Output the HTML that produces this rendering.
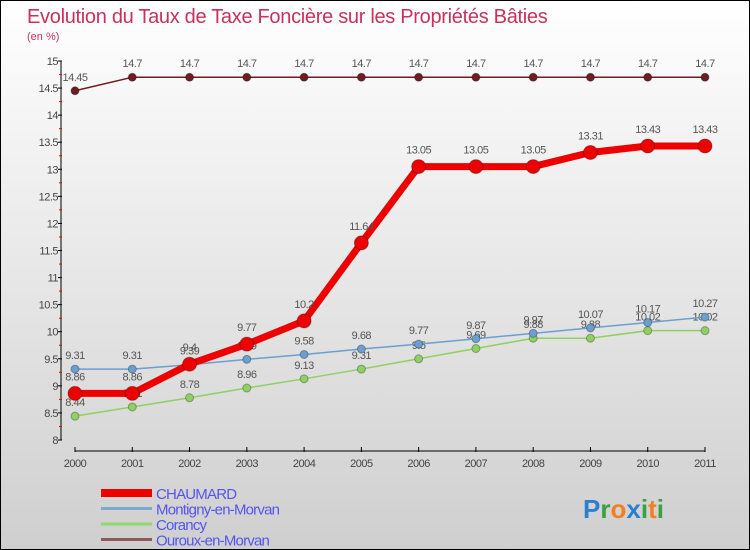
<!DOCTYPE html>
<html><head><meta charset="utf-8">
<style>
body{margin:0;}
#wrap{width:748px;height:548px;border:1px solid #000;background:linear-gradient(#ffffff,#cfcfcf);position:relative;overflow:hidden;font-family:"Liberation Sans",sans-serif;}
svg{position:absolute;left:0;top:0;}
</style></head><body>
<div id="wrap">
<svg id="c" width="748" height="548"></svg>
</div>
<script>
const years=["2000","2001","2002","2003","2004","2005","2006","2007","2008","2009","2010","2011"];
const chaumard=[8.86,8.86,9.4,9.77,10.2,11.64,13.05,13.05,13.05,13.31,13.43,13.43];
const montigny=[9.31,9.31,9.39,9.49,9.58,9.68,9.77,9.87,9.97,10.07,10.17,10.27];
const corancy=[8.44,8.61,8.78,8.96,9.13,9.31,9.5,9.69,9.88,9.88,10.02,10.02];
const ouroux=[14.45,14.7,14.7,14.7,14.7,14.7,14.7,14.7,14.7,14.7,14.7,14.7];
const yTicks=["8","8.5","9","9.5","10","10.5","11","11.5","12","12.5","13","13.5","14","14.5","15"];
const seriesNames=["CHAUMARD","Montigny-en-Morvan","Corancy","Ouroux-en-Morvan"];

const svg=document.getElementById('c');const NS='http://www.w3.org/2000/svg';
function X(i){return 74+i*(630/11);}
function Y(v){return 439-(v-8)*(379/7);}
function mk(t,a,name,p){const e=document.createElementNS(NS,t);for(const k in a)e.setAttribute(k,a[k]);(p||svg).appendChild(e);return e;}
function txt(x,y,s,a,name){const e=mk('text',Object.assign({x:x,y:y},a),name);e.textContent=s;return e;}

txt(26,22,"Evolution du Taux de Taxe Foncière sur les Propriétés Bâties",{'font-size':20,fill:'#c8325a','letter-spacing':'-0.3'},'chart-title');
txt(26,39,"(en %)",{'font-size':11,fill:'#c8325a'},'chart-subtitle');

mk('line',{x1:60,y1:Y(15),x2:60,y2:Y(8),stroke:'#000'},'y-axis');
yTicks.forEach(t=>{const v=parseFloat(t);const y=Y(v);
 mk('line',{x1:57,y1:y,x2:61,y2:y,stroke:'#000'},'y-tick');
 txt(57,y+4,t,{'font-size':11,fill:'#444','text-anchor':'end','letter-spacing':'-0.5'},'y-tick-label');
 if(v<15){mk('line',{x1:58,y1:Y(v+0.25),x2:61,y2:Y(v+0.25),stroke:'#e00'},'y-minor-tick');}
});
mk('line',{x1:X(0),y1:450,x2:X(11),y2:450,stroke:'#000'},'x-axis');
years.forEach((t,i)=>{mk('line',{x1:X(i),y1:446,x2:X(i),y2:451,stroke:'#000'},'x-tick');
 txt(X(i),466,t,{'font-size':11,fill:'#444','text-anchor':'middle','letter-spacing':'-0.5'},'x-tick-label');});

function series(data,color,w,r,name,labelDy){
 const g=mk('g',{},name+'-series');
 mk('polyline',{points:data.map((v,i)=>X(i)+','+Y(v)).join(' '),fill:'none',stroke:color,'stroke-width':w,'stroke-linejoin':'round'},name+'-line',g);
 data.forEach((v,i)=>{mk('circle',{cx:X(i),cy:Y(v),r:r,fill:color,stroke:'rgba(0,0,0,0.3)','stroke-width':1},name+'-point',g);
  txt(X(i),Y(v)+labelDy,String(v),{'font-size':11,fill:'#555','text-anchor':'middle','letter-spacing':'-0.5'},name+'-value-label');});
}
series(ouroux,'#6e1e22',1.5,4,'ouroux',-10);
series(corancy,'#90d060',1.5,4,'corancy',-10);
series(montigny,'#6a9fd0',1.5,4,'montigny',-10);
series(chaumard,'#ee0000',7,7,'chaumard',-13);

const lc=['#ee0000','#7fa8cc','#90d870','#8c5a5a'];const lw=[8,3,3,3];
seriesNames.forEach((n,i)=>{const y=492+i*15.5;
 mk('line',{x1:100,y1:y,x2:151,y2:y,stroke:lc[i],'stroke-width':lw[i]},'legend-swatch');
 txt(155,y+6,n,{'font-size':15,fill:'#5555ee','letter-spacing':'-0.8'},'legend-entry');});

const lg=mk('text',{x:582,y:517,'font-size':26,'font-weight':'bold'},'proxiti-logo');
[['P','#2a7fd0'],['r','#3aa040'],['o','#f08020'],['x','#2a7fd0'],['i','#3aa040'],['t','#f08020'],['i','#3aa040']].forEach(([c,col])=>{const s=document.createElementNS(NS,'tspan');s.setAttribute('fill',col);


s.textContent=c;lg.appendChild(s);});
</script>
</body></html>
